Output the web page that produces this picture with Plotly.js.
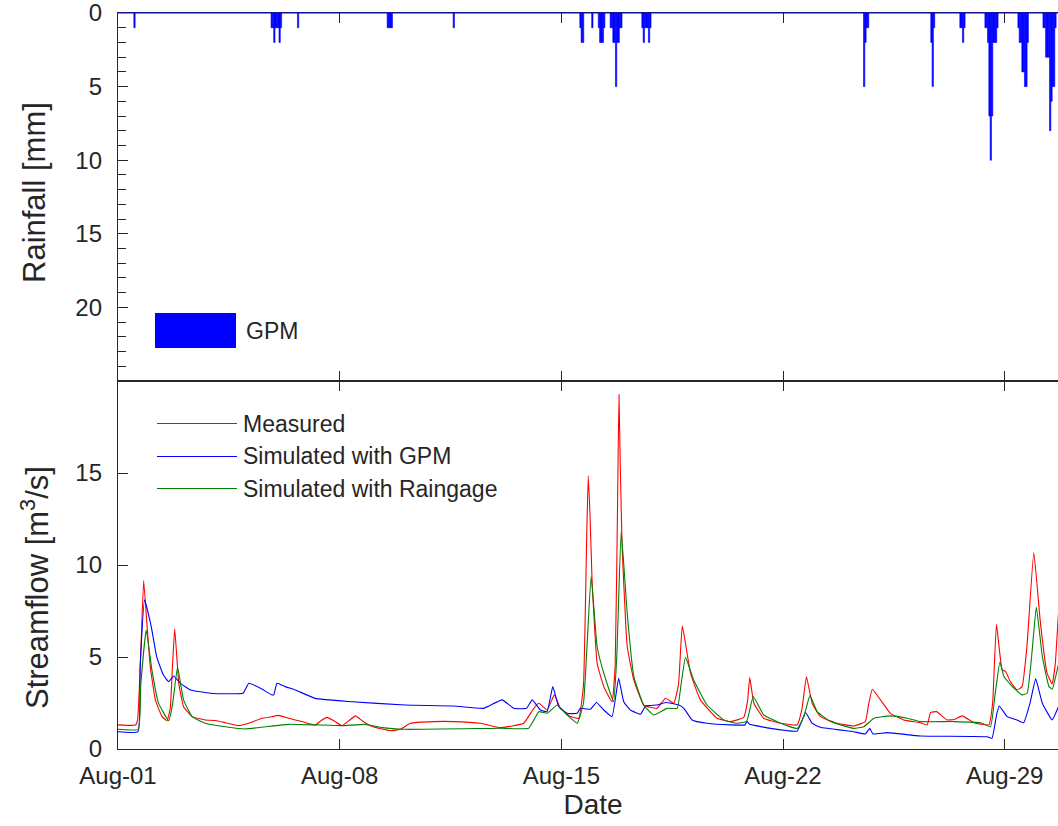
<!DOCTYPE html>
<html><head><meta charset="utf-8">
<script src="https://cdn.plot.ly/plotly-3.0.1.min.js"></script>
<style>html,body{margin:0;padding:0;overflow:hidden;background:#fff;}#chart{width:1080px;height:826px}</style>
</head><body><div id="chart"></div>
<script>
// ---- data ----
// GPM rainfall: hour index from Aug-01 00:00, depth in mm
const rainHour = [12,
 116,117,118,119,120,121,122,123,
 136,
 204,205,206,207,
 254,
 350,351,352,
 359,
 364,365,366,367,368,
 373,374,375,376,377,378,379,380,381,
 397,398,399,400,401,402,403,
 565,566,567,568,
 616,617,618,
 638,639,640,641,
 657,658,659,660,661,662,663,664,665,666,
 682,683,684,685,686,687,688,689,
 701,702,703,704,705,706,707,708,709,710];
const rainMM = [1,
 1,1,2,1,1,1,2,1,
 1,
 1,1,1,1,
 1,
 1,2,2,
 1,
 1,2,2,2,1,
 1,1,2,2,5,2,2,1,1,
 1,2,1,1,1,2,1,
 5,2,1,1,
 2,5,1,
 1,1,2,1,
 1,1,2,7,10,7,2,2,2,1,
 1,2,2,4,4,5,5,2,
 1,1,3,3,3,8,6,5,5,1];

// Streamflow (m3/s): day offset from Aug-01 00:00
const measuredDay = [0,0.55,0.62,0.71,0.81,0.92,1.02,1.18,1.39,1.55,1.65,1.72,1.79,1.92,2.07,2.34,2.76,3.07,3.39,3.81,4.13,4.55,4.85,5.07,5.39,5.81,6.23,6.42,6.60,6.85,7.07,7.30,7.50,7.70,7.92,8.30,8.65,8.92,9.23,9.97,10.6,11.44,12.07,12.81,13.13,13.29,13.55,13.78,13.97,14.29,14.55,14.70,14.80,14.85,14.91,14.97,15.13,15.34,15.60,15.70,15.78,15.82,15.86,15.92,16.08,16.29,16.60,17.02,17.29,17.55,17.70,17.82,18.08,18.39,18.92,19.34,19.76,19.88,19.95,20.08,20.39,20.92,21.45,21.60,21.74,21.92,22.18,22.71,23.23,23.60,23.70,23.82,24.08,24.39,24.81,25.34,25.55,25.66,25.85,26.18,26.40,26.66,27.03,27.50,27.62,27.74,27.92,28.03,28.18,28.39,28.55,28.70,28.92,29.13,29.34,29.50,29.60,29.70,29.78];
const measuredQ = [1.31,1.30,1.6,4.84,9.16,6.65,4.48,2.67,1.76,1.54,2.2,4.5,6.53,3.57,2.30,1.76,1.58,1.55,1.43,1.27,1.40,1.67,1.75,1.83,1.67,1.49,1.31,1.55,1.72,1.50,1.27,1.55,1.80,1.55,1.31,1.10,1.00,1.07,1.40,1.49,1.49,1.40,1.16,1.40,2.21,2.49,2.12,2.94,2.21,1.76,1.67,3.5,11.5,14.85,12.5,9.19,4.66,3.39,2.57,4.5,14.0,19.26,15.5,11.0,5.57,3.75,2.39,2.21,2.76,2.49,3.5,6.69,4.12,2.67,1.67,1.49,1.72,2.6,3.88,2.49,1.67,1.40,1.31,2.2,3.93,2.49,1.76,1.40,1.25,1.49,2.4,3.25,2.67,1.94,1.58,1.43,1.31,1.98,2.03,1.58,1.60,1.80,1.43,1.31,2.5,6.78,4.30,4.21,3.66,3.21,3.39,5.5,10.68,6.84,4.12,3.54,4.66,7.38,8.6];

const gpmDay = [0,0.63,0.70,0.84,1.05,1.22,1.43,1.60,1.76,1.97,2.29,2.92,3.50,3.95,4.13,4.50,4.86,4.92,5.02,5.28,5.60,6.23,7.28,9.07,10.6,11.55,12.13,12.50,12.90,13.08,13.34,13.55,13.73,13.92,14.18,14.50,14.60,14.92,15.11,15.34,15.60,15.81,15.97,16.18,16.50,16.66,17.02,17.29,17.71,17.87,18.13,18.60,19.34,19.80,19.86,19.95,20.60,21.45,21.71,21.92,22.18,23.23,23.60,23.74,23.84,24.29,25.34,27.45,27.60,27.75,27.83,28.08,28.39,28.60,28.80,28.98,29.19,29.50,29.70,29.78];
const gpmQ = [0.94,0.94,4.5,8.11,6.65,5.02,4.03,3.66,3.97,3.57,3.21,3.03,3.0,3.03,3.57,3.30,2.94,2.95,3.57,3.39,3.21,2.75,2.58,2.39,2.34,2.21,2.67,2.21,2.21,2.67,2.12,2.03,3.39,2.30,1.94,1.94,2.21,2.16,2.53,2.12,1.76,3.84,2.57,2.12,1.89,2.34,2.39,2.53,2.39,2.21,1.58,1.40,1.31,1.31,1.49,1.35,1.12,0.98,1.98,1.40,1.18,0.94,0.82,1.12,0.82,0.89,0.71,0.67,0.58,1.9,2.34,1.76,1.58,1.43,2.49,3.81,2.49,1.58,2.30,2.6];

const gaugeDay = [0,0.64,0.72,0.89,1.07,1.28,1.60,1.72,1.88,2.07,2.34,2.76,3.39,4.02,4.65,5.39,6.23,7.07,7.81,8.34,9.07,12.07,12.97,13.29,13.55,13.87,14.18,14.50,14.70,14.94,15.13,15.34,15.65,15.75,15.89,16.08,16.29,16.60,16.92,17.34,17.66,17.78,17.92,18.18,18.60,19.13,19.50,19.85,20.06,20.39,20.92,21.45,21.66,21.85,22.08,22.50,23.23,23.55,23.87,24.39,24.92,25.34,26.39,27.24,27.55,27.70,27.85,27.98,28.24,28.55,28.71,28.85,29.00,29.19,29.40,29.50,29.66,29.78];
const gaugeQ = [1.07,1.07,3.5,6.47,4.30,2.49,1.54,2.4,4.44,2.67,1.76,1.40,1.21,1.09,1.21,1.34,1.31,1.27,1.34,1.16,1.07,1.13,1.13,2.03,1.94,2.39,1.85,1.40,2.5,9.38,5.57,4.12,2.57,5.0,11.82,7.38,3.93,2.39,1.85,2.21,2.21,3.5,4.98,3.75,2.39,1.58,1.40,1.5,2.85,1.85,1.40,1.12,1.76,2.90,2.03,1.49,1.12,1.21,1.67,1.80,1.67,1.49,1.49,1.43,1.21,3.0,4.72,3.93,3.39,2.94,3.03,5.0,7.71,5.02,3.39,3.25,4.30,5.2];

const tickDays = [0,7,14,21,28];
const tickLabels = ['Aug-01','Aug-08','Aug-15','Aug-22','Aug-29'];
const rainTicks = [0,5,10,15,20];
const flowTicks = [0,5,10,15];
const seriesNames = ['Measured','Simulated with GPM','Simulated with Raingage'];
const seriesColors = ['#ff0000','#0000ff','#008000'];

// ---- helpers ----
const T0 = Date.UTC(2019,7,1);
function toDate(ms){ return new Date(ms).toISOString().replace('T',' ').replace('Z',''); }
const dayToDate = d => toDate(T0 + d*86400000);
const hourToDate = h => toDate(T0 + h*3600000);

const FONT = 'Liberation Sans, Arial, sans-serif';
const INK = '#262626';
const LINE = {width:1.1, shape:'spline', smoothing:0.35};

const traces = [
  {type:'bar', x: rainHour.map(h=>hourToDate(h+0.5)), y: rainMM, width: 3600000,
   marker:{color:'#0000ff', line:{color:'#0000ff', width:0.6}}, xaxis:'x2', yaxis:'y2', name:'GPM', showlegend:false, hoverinfo:'x+y'},
  {type:'scatter', mode:'lines', x: measuredDay.map(dayToDate), y: measuredQ, line:Object.assign({color:seriesColors[0]}, LINE), name:seriesNames[0], showlegend:false},
  {type:'scatter', mode:'lines', x: gpmDay.map(dayToDate), y: gpmQ, line:Object.assign({color:seriesColors[1]}, LINE), name:seriesNames[1], showlegend:false},
  {type:'scatter', mode:'lines', x: gaugeDay.map(dayToDate), y: gaugeQ, line:Object.assign({color:seriesColors[2]}, LINE), name:seriesNames[2], showlegend:false}
];

const PL = 118, PR = 1068, PT = 13, PB = 749;
const px = v => (v - PL)/(PR-PL);
const py = v => (PB - v)/(PB-PT);

const xCommon = {
  type:'date', range:[dayToDate(0), dayToDate(30)],
  tickvals: tickDays.map(dayToDate), ticktext: tickLabels,
  ticks:'inside', ticklen:10, tickwidth:1, tickcolor:INK,
  showline:true, linecolor:INK, linewidth:1.2, mirror:'ticks',
  showgrid:false, zeroline:false,
  tickfont:{family:FONT, size:24, color:INK}
};

const shapes = [
  {type:'line', xref:'paper', yref:'paper', x0:0, x1:1, y0:1, y1:1, line:{color:'#0000ff', width:1}},
  // GPM legend patch
  {type:'rect', xref:'paper', yref:'paper', x0:px(155), x1:px(236), y0:py(348), y1:py(313), fillcolor:'#0000ff', line:{width:0}}
];
const annotations = [
  {xref:'paper', yref:'paper', x:px(244), y:py(331), text:'GPM', showarrow:false, xanchor:'left', yanchor:'middle', font:{family:FONT, size:23, color:INK}},
  {xref:'paper', yref:'paper', x:px(35), y:py(193), text:'Rainfall [mm]', textangle:-90, showarrow:false, xanchor:'center', yanchor:'middle', font:{family:FONT, size:31, color:INK}},
  {xref:'paper', yref:'paper', x:px(35), y:py(588), text:'Streamflow [m<sup>3</sup>/s]', textangle:-90, showarrow:false, xanchor:'center', yanchor:'middle', font:{family:FONT, size:31, color:INK}}
];
const legY = [423.5, 456.5, 488.5];
seriesNames.forEach((n,i)=>{
  shapes.push({type:'line', xref:'paper', yref:'paper', x0:px(157), x1:px(237), y0:py(legY[i]), y1:py(legY[i]), line:{color:seriesColors[i], width:1.2}});
  annotations.push({xref:'paper', yref:'paper', x:px(241), y:py(legY[i]), text:n, showarrow:false, xanchor:'left', yanchor:'middle', font:{family:FONT, size:23, color:INK}});
});

const layout = {
  width:1080, height:826,
  margin:{l:PL, r:1080-PR, t:PT, b:826-PB},
  paper_bgcolor:'#fff', plot_bgcolor:'#fff',
  showlegend:false, bargap:0,
  font:{family:FONT, color:INK},
  xaxis: Object.assign({}, xCommon, {anchor:'y', domain:[0,1], ticklabelstandoff:5,
    title:{text:'Date', font:{family:FONT, size:28, color:INK}, standoff:3}}),
  xaxis2: Object.assign({}, xCommon, {anchor:'y2', matches:'x', showticklabels:false}),
  yaxis: {domain:[0,0.5], anchor:'x', range:[0,20], tickvals:flowTicks,
    ticks:'inside', ticklen:10, tickcolor:INK, showline:true, linecolor:INK, linewidth:1.2, mirror:'ticks',
    showgrid:false, zeroline:false, ticklabelstandoff:10, ticklabeloverflow:'allow',
    tickfont:{family:FONT, size:24, color:INK}},
  yaxis2: {domain:[0.5,1], anchor:'x2', range:[25,0], tickvals:rainTicks,
    ticks:'inside', ticklen:10, tickcolor:INK, showline:true, linecolor:INK, linewidth:1.2, mirror:'ticks',
    minor:{ticks:'inside', dtick:1, ticklen:8, tickcolor:INK, showgrid:false},
    showgrid:false, zeroline:false, ticklabelstandoff:10, ticklabeloverflow:'allow',
    tickfont:{family:FONT, size:24, color:INK}},
  shapes: shapes, annotations: annotations
};

Plotly.newPlot('chart', traces, layout, {displayModeBar:false, staticPlot:true});
</script></body></html>
